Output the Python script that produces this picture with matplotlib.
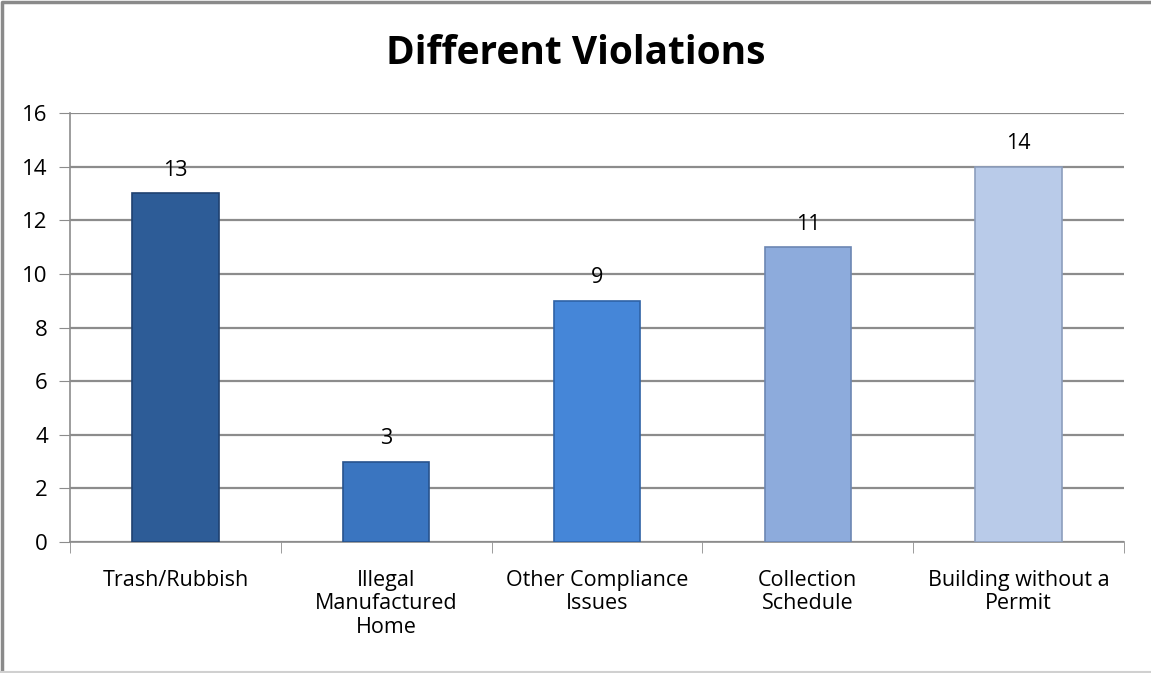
import matplotlib.pyplot as plt
import numpy as np
from matplotlib.lines import Line2D

categories = ["Trash/Rubbish", "Illegal\nManufactured\nHome", "Other Compliance\nIssues",
              "Collection\nSchedule", "Building without a\nPermit"]
counts = [13, 3, 9, 11, 14]
bar_colors = ["#2D5C97", "#3A75C0", "#4586D8", "#8DABDC", "#B9CBE9"]
edge_colors = ["#1F4170", "#27538D", "#2F62A6", "#6C86B3", "#8C9EBD"]
yticks = [0, 2, 4, 6, 8, 10, 12, 14, 16]

plt.rcParams['font.family'] = ['Open Sans', 'DejaVu Sans']

fig = plt.figure(figsize=(11.51, 6.73), dpi=100)
ax = fig.add_axes([0.0608, 0.1947, 0.9158, 0.6373])

x = np.arange(len(categories))
bars = ax.bar(x, counts, width=0.41, color=bar_colors, edgecolor=edge_colors, linewidth=1.2, zorder=3)

for xi, v in zip(x, counts):
    ax.annotate(str(v), (xi, v), xytext=(0, 9), textcoords="offset points",
                ha="center", va="bottom", fontsize=15.5)

ax.set_xlim(-0.5, len(categories) - 0.5)
ax.set_ylim(0, 16)
ax.set_yticks(yticks)
ax.tick_params(axis="y", labelsize=16, length=8, color="#8C8C8C", pad=8)
ax.yaxis.grid(True, color="#8C8C8C", linewidth=1.6, zorder=0)

ax.set_xticks(x)
ax.set_xticklabels(categories, fontsize=15.5, linespacing=1.17)
ax.tick_params(axis="x", which="major", length=0, pad=20)
ax.set_xticks(np.arange(len(categories) + 1) - 0.5, minor=True)
ax.tick_params(axis="x", which="minor", length=8, color="#8C8C8C")

for s in ["top", "right"]:
    ax.spines[s].set_visible(False)
ax.spines["left"].set_color("#8C8C8C")
ax.spines["bottom"].set_color("#8C8C8C")
ax.spines["left"].set_linewidth(1.2)
ax.spines["bottom"].set_linewidth(1.2)

fig.suptitle("Different Violations", x=0.5, y=0.95, fontsize=28, fontweight="bold")

# outer chart border: gray top and left, faint bottom
fig.add_artist(Line2D([0.002, 0.002, 1.0], [0.0, 0.997, 0.997], transform=fig.transFigure,
                      color="#8A8A8A", linewidth=2.5))
fig.add_artist(Line2D([0.0, 1.0], [0.002, 0.002], transform=fig.transFigure,
                      color="#D0D0D0", linewidth=1.5))

fig.savefig("out.png", dpi=100)
